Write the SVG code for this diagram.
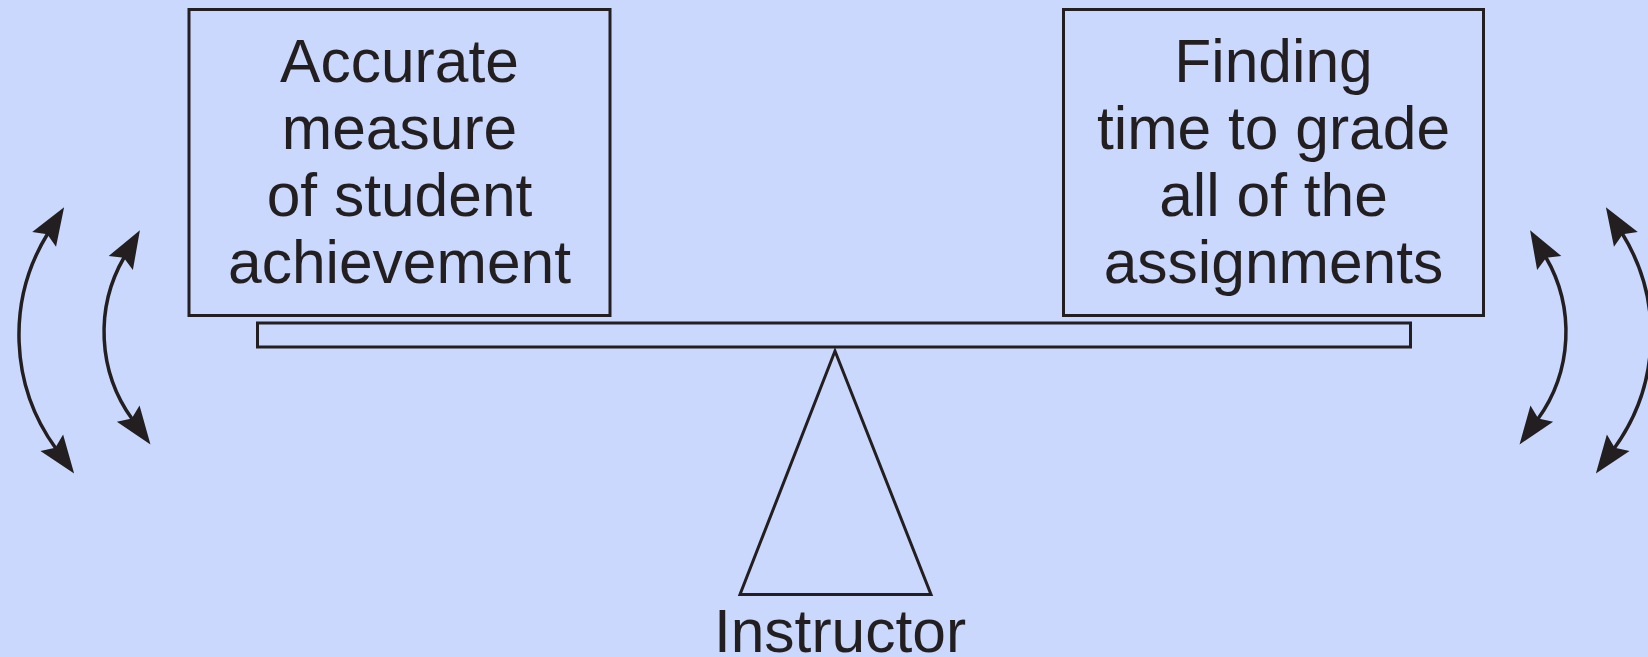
<svg xmlns="http://www.w3.org/2000/svg" width="1648" height="657" viewBox="0 0 1648 657">
<style>
.bg{fill:#cad8fd}
.shape{fill:none;stroke:#231f20;stroke-width:3}
.lbl{font-family:"Liberation Sans",Arial,sans-serif;font-size:60.5px;fill:#231f20;text-anchor:middle}
.arc{fill:none;stroke:#231f20;stroke-width:3.5}
</style>
<defs>
<marker id="head" markerUnits="userSpaceOnUse" markerWidth="90" markerHeight="90" viewBox="-45 -45 90 90" refX="0" refY="0" orient="auto-start-reverse">
<path d="M31,0 L-7,-14 L-1,0 L-7,14 Z" fill="#231f20"/>
</marker>
</defs>
<rect class="bg" x="0" y="0" width="1648" height="657"/>
<g id="box-left">
<rect class="shape" x="189" y="9.5" width="421" height="306"/>
<text class="lbl" x="399.5" y="82">Accurate</text>
<text class="lbl" x="399.5" y="149">measure</text>
<text class="lbl" x="399.5" y="216">of student</text>
<text class="lbl" x="399.5" y="283">achievement</text>
</g>
<g id="box-right">
<rect class="shape" x="1063.5" y="9.5" width="420" height="306"/>
<text class="lbl" x="1273.5" y="82">Finding</text>
<text class="lbl" x="1273.5" y="149">time to grade</text>
<text class="lbl" x="1273.5" y="216">all of the</text>
<text class="lbl" x="1273.5" y="283">assignments</text>
</g>
<g id="beam">
<rect class="shape" x="257.5" y="323" width="1153" height="24"/>
</g>
<g id="fulcrum">
<polygon class="shape" points="835,351 740,594.5 931,594.5"/>
<text class="lbl" x="840" y="652">Instructor</text>
</g>
<g id="connectors">
<path class="arc" d="M55.9,448.5 A193,193 0 0,1 47.8,233.5" marker-start="url(#head)" marker-end="url(#head)"/>
<path class="arc" d="M132.3,419.3 A149,149 0 0,1 124.3,257" marker-start="url(#head)" marker-end="url(#head)"/>
<g transform="translate(1670,0) scale(-1,1)">
<path class="arc" d="M55.9,448.5 A193,193 0 0,1 47.8,233.5" marker-start="url(#head)" marker-end="url(#head)"/>
<path class="arc" d="M132.3,419.3 A149,149 0 0,1 124.3,257" marker-start="url(#head)" marker-end="url(#head)"/>
</g>
</g>
</svg>
